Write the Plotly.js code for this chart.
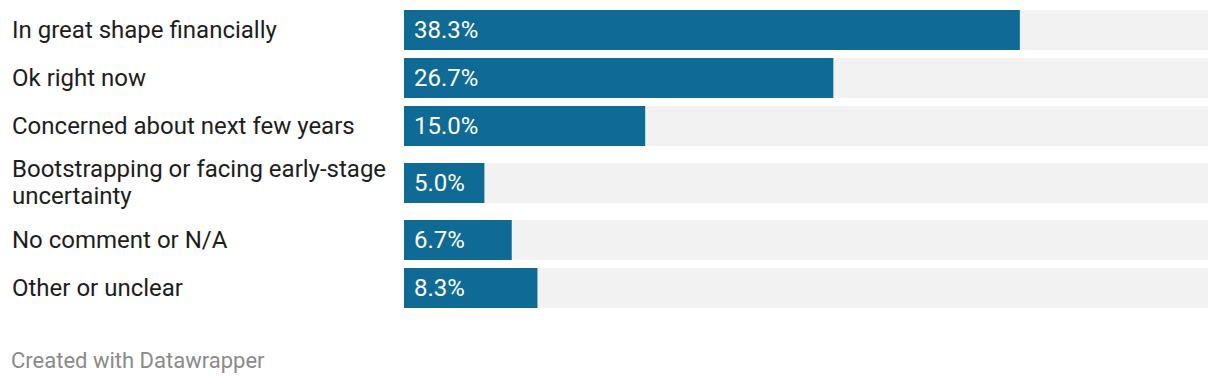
<!DOCTYPE html>
<html>
<head>
<meta charset="utf-8">
<script src="https://cdn.plot.ly/plotly-3.0.1.min.js"></script>
<style>
html,body{margin:0;padding:0;background:#fff;}
#chart{width:1220px;height:384px;}
</style>
</head>
<body>
<div id="chart"></div>
<script>
// Data
const categories = [
  "In great shape financially",
  "Ok right now",
  "Concerned about next few years",
  "Bootstrapping or facing early-stage<br>uncertainty",
  "No comment or N/A",
  "Other or unclear"
];
const values = [38.3, 26.7, 15.0, 5.0, 6.7, 8.3];
const axisMax = 50;

// Layout helpers (row positions in pixel units derived from label line counts)
const BAR_H = 40, GAP = 8, EXTRA_PER_LINE = 18, TOP = 10, LINE_H = 27;
const centers = [];
let cursor = TOP;
categories.forEach(c => {
  const lines = c.split("<br>").length;
  const extra = (lines - 1) * EXTRA_PER_LINE;
  const center = cursor + extra / 2 + BAR_H / 2;
  centers.push(center);
  cursor = center + BAR_H / 2 + extra / 2 + GAP;
});

const PLOT_H = 384;
const FONT = "Roboto, 'Noto Sans', sans-serif";

const bgTrace = {
  type: "bar", orientation: "h",
  x: categories.map(() => axisMax), y: centers,
  width: BAR_H,
  marker: {color: "#f2f2f2"},
  hoverinfo: "skip", showlegend: false
};
const valTrace = {
  type: "bar", orientation: "h",
  x: values, y: centers,
  width: BAR_H,
  marker: {color: "#0f6b96"},
  hoverinfo: "skip", showlegend: false
};

const annotations = [];
categories.forEach((c, i) => {
  const lines = c.split("<br>");
  lines.forEach((ln, j) => {
    annotations.push({
      xref: "paper", yref: "y",
      x: -394 / 804, y: centers[i] + (j - (lines.length - 1) / 2) * LINE_H - 0.5,
      xanchor: "left", yanchor: "middle", align: "left",
      text: ln, showarrow: false,
      font: {family: FONT, size: 24, color: "#1d1d1d"}
    });
  });
  annotations.push({
    xref: "x", yref: "y",
    x: 0, y: centers[i], xshift: 8,
    xanchor: "left", yanchor: "middle",
    text: values[i].toFixed(1) + "%", showarrow: false,
    font: {family: FONT, size: 24, color: "#ffffff"}
  });
});
annotations.push({
  xref: "paper", yref: "paper",
  x: -395 / 804, y: 0,
  xanchor: "left", yanchor: "middle",
  text: "Created with Datawrapper", showarrow: false,
  font: {family: FONT, size: 22, color: "#8a8a8a"}
});

Plotly.newPlot("chart", [bgTrace, valTrace], {
  width: 1220, height: 384,
  margin: {l: 404, r: 12, t: 0, b: 24},
  paper_bgcolor: "#ffffff", plot_bgcolor: "#ffffff",
  barmode: "overlay",
  xaxis: {range: [0, axisMax], visible: false, fixedrange: true},
  yaxis: {range: [PLOT_H - 24, 0], visible: false, fixedrange: true},
  annotations: annotations
}, {displayModeBar: false, staticPlot: true});
</script>
</body>
</html>
